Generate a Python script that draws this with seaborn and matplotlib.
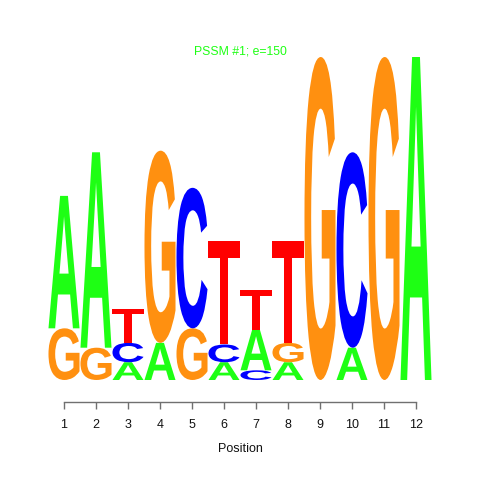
import matplotlib
matplotlib.use("Agg")
import matplotlib.pyplot as plt
import seaborn as sns
import numpy as np
from matplotlib.textpath import TextPath
from matplotlib.font_manager import FontProperties
from matplotlib.patches import PathPatch
from matplotlib.transforms import Affine2D

# ---- data (information content in bits per letter) ----
positions = list(range(1, 13))
letters = ["A", "C", "G", "T"]
A_bits = [0.82, 1.21, 0.11, 0.23, 0.00, 0.11, 0.25, 0.11, 0.00, 0.20, 0.00, 2.00]
C_bits = [0.00, 0.00, 0.12, 0.00, 0.87, 0.11, 0.06, 0.00, 0.00, 1.21, 0.00, 0.00]
G_bits = [0.32, 0.20, 0.00, 1.19, 0.32, 0.00, 0.00, 0.12, 2.00, 0.00, 2.00, 0.00]
T_bits = [0.00, 0.00, 0.21, 0.00, 0.00, 0.64, 0.25, 0.63, 0.00, 0.00, 0.00, 0.00]
title_text = "PSSM #1; e=150"
xlabel_text = "Position"

colors = {"A": "#1EFF14", "C": "#0000FF", "G": "#FF9010", "T": "#FF0000"}

sns.set_style("white")
plt.rcParams["font.family"] = ["Liberation Sans", "DejaVu Sans"]

fig = plt.figure(figsize=(4.8, 4.8), dpi=100)
ax = fig.add_axes([48 / 480, (480 - 402) / 480, 384 / 480, 362 / 480])

fp = FontProperties(family="Liberation Sans", weight="bold")

def letter_patch(ch, xc, y0, w, h, color):
    tp = TextPath((0, 0), ch, size=1, prop=fp)
    bb = tp.get_extents()
    t = (Affine2D().translate(-bb.x0, -bb.y0)
         .scale(w / bb.width, h / bb.height)
         .translate(xc - w / 2, y0))
    return PathPatch(t.transform_path(tp), facecolor=color, edgecolor="none", lw=0)

table = {"A": A_bits, "C": C_bits, "G": G_bits, "T": T_bits}
for i, pos in enumerate(positions):
    col = [(ltr, table[ltr][i]) for ltr in letters if table[ltr][i] > 0]
    col.sort(key=lambda t: t[1])
    y = 0.0
    for ltr, h in col:
        ax.add_patch(letter_patch(ltr, pos, y, 0.97, h, colors[ltr]))
        y += h

ymin = -22 / 161.5
ax.set_xlim(0.5, 12.5)
ax.set_ylim(ymin, ymin + 362 / 161.5)

for s in ["left", "top", "right"]:
    ax.spines[s].set_visible(False)
ax.spines["bottom"].set_bounds(1, 12)
ax.spines["bottom"].set_color("#707070")
ax.spines["bottom"].set_linewidth(1.0)
ax.set_yticks([])
ax.set_xticks(positions)
ax.set_xticklabels([str(p) for p in positions])
ax.tick_params(axis="x", direction="out", length=5, width=1.0, color="#707070",
               pad=7.5, labelsize=9, labelcolor="#111111", bottom=True)
ax.set_xlabel(xlabel_text, fontsize=9, labelpad=8.5, color="#111111")

fig.text(0.5, 1 - 52 / 480, title_text, ha="center", va="center",
         fontsize=8.8, color="#1EFF14")

fig.savefig("out.png", dpi=100, facecolor="white")
